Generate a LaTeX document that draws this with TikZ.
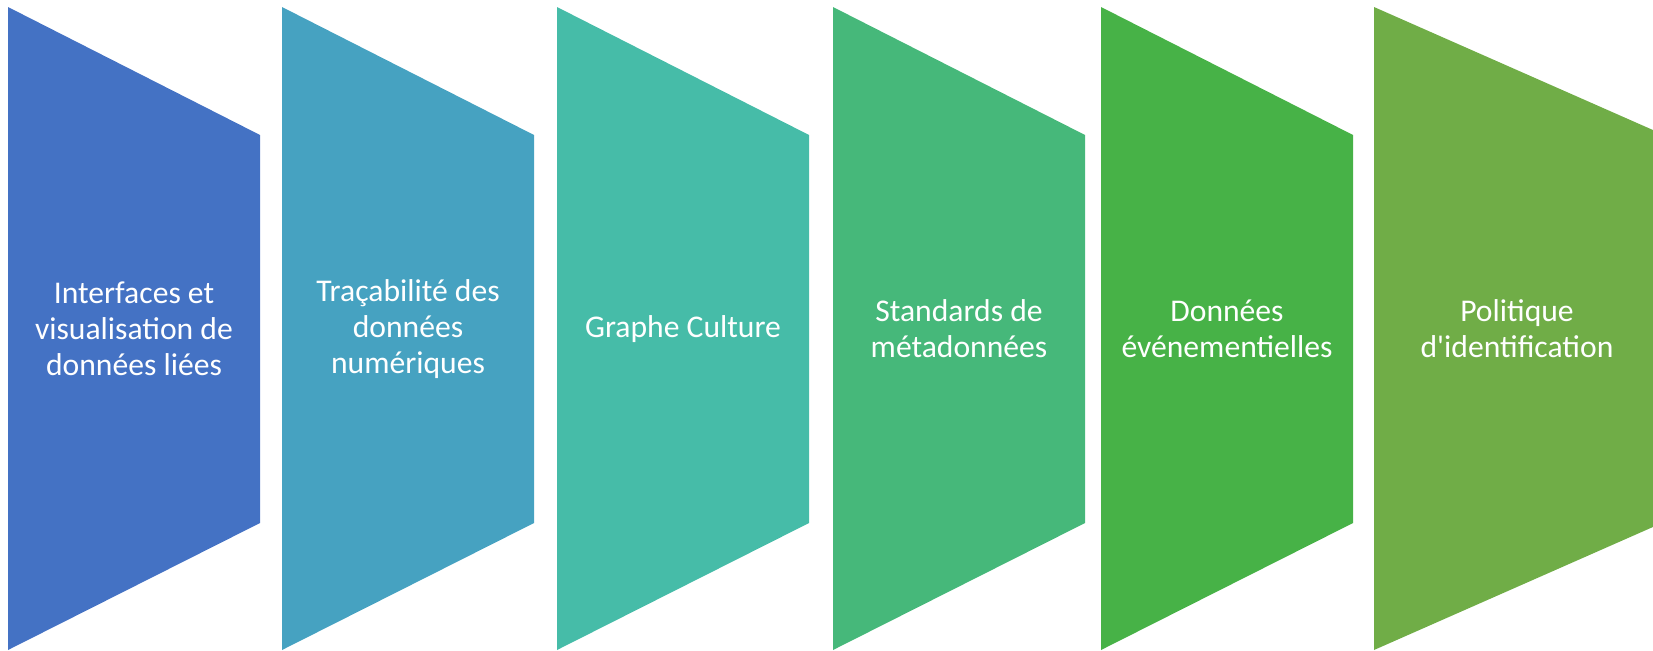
\documentclass[tikz,border=0pt]{standalone}
\usepackage{fontspec}
\setmainfont{Carlito}
\usepackage{xcolor}
\usepackage{tikz}
\usetikzlibrary{positioning}

\definecolor{stepA}{HTML}{4472C4}
\definecolor{stepB}{HTML}{46A2C1}
\definecolor{stepC}{HTML}{46BCA8}
\definecolor{stepD}{HTML}{46B87A}
\definecolor{stepE}{HTML}{47B247}
\definecolor{stepF}{HTML}{70AD47}

\begin{document}
\begin{tikzpicture}[x=0.02cm, y=-0.02cm,
  steptext/.style={text=white, align=center, inner sep=0pt,
    font=\fontsize{18}{20.6}\selectfont}]
\useasboundingbox (0,0) rectangle (1653,650);
\clip (0,0) rectangle (1653,650);
% the five tapered blocks
\foreach \x/\c in {8/stepA, 282/stepB, 557/stepC, 833/stepD, 1101/stepE}
  \fill[\c] (\x,7) -- (\x+252,135) -- (\x+252,523) -- (\x,650) -- cycle;
% the last one runs past the edge
\fill[stepF] (1374,7) -- (1696,149) -- (1696,508) -- (1374,650) -- cycle;

\node[steptext] (interfaces) at (134,329) {Interfaces et\\visualisation de\\données liées};
\node[steptext] (tracabilite) at (408,329) {Traçabilité des\\données\\numériques};
\node[steptext] (graphe) at (683,329) {Graphe Culture};
\node[steptext] (standards) at (959,329) {Standards de\\métadonnées};
\node[steptext] (evenements) at (1227,329) {Données\\événementielles};
\node[steptext] (politique) at (1517,329) {Politique\\d\textquotesingle identification};
\end{tikzpicture}
\end{document}
